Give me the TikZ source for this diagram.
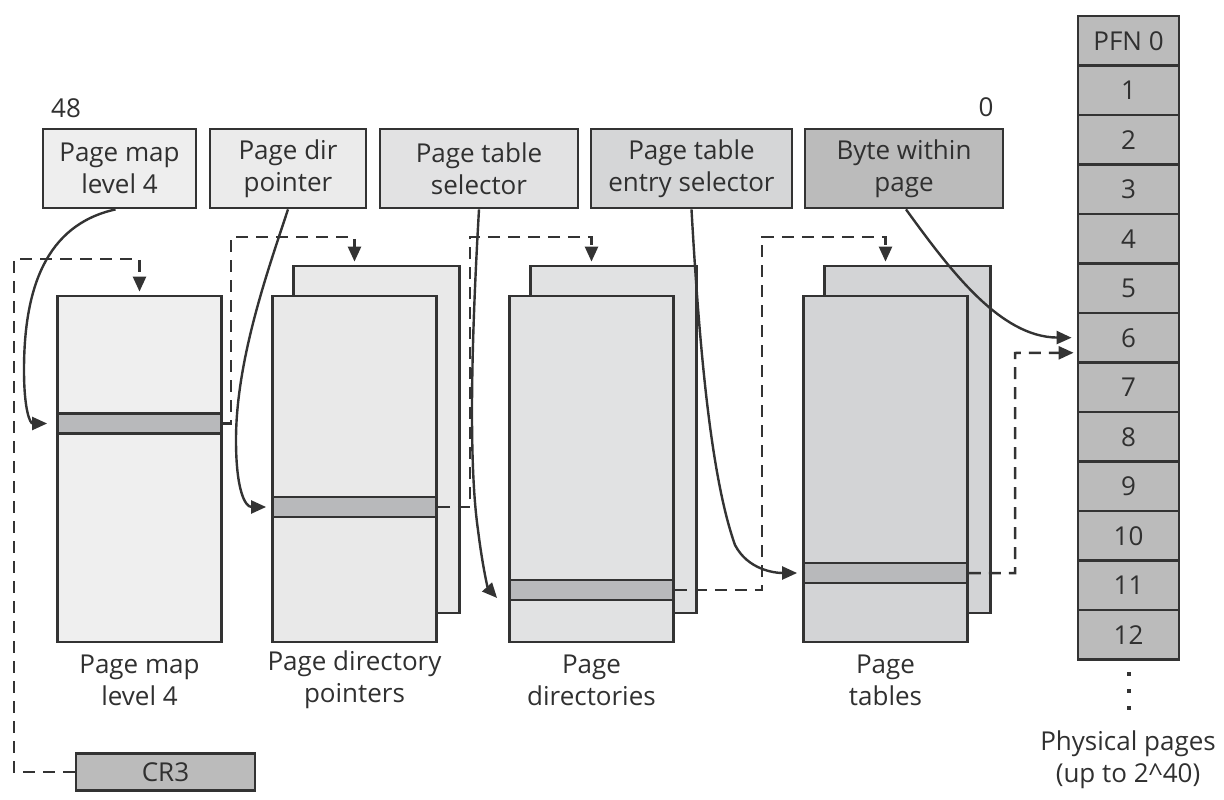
\documentclass[tikz,border=0pt]{standalone}
\usepackage{fontspec}
\setmainfont{Open Sans}
\usetikzlibrary{arrows.meta,calc}
\definecolor{ln}{HTML}{333333}
\definecolor{tx}{HTML}{303030}
\definecolor{fA}{HTML}{EEEEEE}
\definecolor{fB}{HTML}{EBEBEB}
\definecolor{fC}{HTML}{E2E2E3}
\definecolor{fD}{HTML}{D5D6D7}
\definecolor{fE}{HTML}{BBBBBB}
\definecolor{tA}{HTML}{EFEFEF}
\definecolor{tB}{HTML}{E9E9E9}
\definecolor{tC}{HTML}{E1E2E3}
\definecolor{tD}{HTML}{D3D4D6}
\definecolor{bandc}{HTML}{B8B9BB}
\begin{document}
\begin{tikzpicture}[x=1pt,y=-1pt,
  txt/.style={text=tx,font=\fontsize{26}{32}\selectfont,align=center,inner sep=0pt},
  fld/.style={txt,draw=ln,line width=2.8pt,minimum height=79pt},
  tblf/.style={draw=ln,line width=2.8pt,inner sep=0pt,minimum width=164pt,minimum height=346pt},
  tblb/.style={draw=ln,line width=2.8pt,inner sep=0pt,minimum width=166pt,minimum height=347pt},
  band/.style={draw=ln,line width=2.8pt,fill=bandc,inner sep=0pt,minimum width=164pt,minimum height=20pt},
  cell/.style={txt,draw=ln,line width=2.8pt,fill=fE,minimum width=101pt,minimum height=49.5pt},
  dsh/.style={draw=ln,line width=2.5pt,dash pattern=on 12pt off 8pt,-{Triangle[length=15pt,width=13pt]},shorten >=3pt},
  crv/.style={draw=ln,line width=2.4pt,-{Triangle[length=15pt,width=13pt]}}
]
\useasboundingbox (0,0) rectangle (1224,800);

% bit labels
\node[txt] (n48) at (66,108) {48};
\node[txt] (n0) at (986,107) {0};

% address fields
\node[fld,fill=fA,minimum width=153pt] (f1) at (119.5,168.5) {Page map\\level 4};
\node[fld,fill=fB,minimum width=156pt] (f2) at (288,168.5) {Page dir\\pointer};
\node[fld,fill=fC,minimum width=198pt] (f3) at (479,168.5) {Page table\\selector};
\node[fld,fill=fD,minimum width=201pt] (f4) at (691.5,168.5) {Page table\\entry selector};
\node[fld,fill=fE,minimum width=198pt] (f5) at (904,168.5) {Byte within\\page};

% tables
\node[tblf,fill=tA] (t1) at (139.5,469) {};
\node[band] (e1) at (139.5,423.5) {};

\node[tblb,fill=tB] (t2b) at (376.5,439.5) {};
\node[tblf,fill=tB] (t2f) at (354.5,469) {};
\node[band] (e2) at (354.5,507) {};

\node[tblb,fill=tC] (t3b) at (613.5,439.5) {};
\node[tblf,fill=tC] (t3f) at (591.5,469) {};
\node[band] (e3) at (591.5,590) {};

\node[tblb,fill=tD] (t4b) at (907.5,439.5) {};
\node[tblf,fill=tD] (t4f) at (885.5,469) {};
\node[band] (e4) at (885.5,573) {};

% table labels
\node[txt] (l1) at (139.5,680) {Page map\\level 4};
\node[txt] (l2) at (354.5,680) {Page directory\\pointers};
\node[txt] (l3) at (591.5,680) {Page\\directories};
\node[txt] (l4) at (885.5,680) {Page\\tables};

% CR3
\node[fld,fill=fE,minimum width=179pt,minimum height=37pt] (cr3) at (165.5,772) {CR3};

% physical pages
\foreach \i in {0,...,12}{
  \pgfmathsetmacro{\yy}{40.75+49.5*\i}
  \ifnum\i=0
    \node[cell] (p\i) at (1128.5,\yy) {PFN 0};
  \else
    \node[cell] (p\i) at (1128.5,\yy) {\i};
  \fi
}
\foreach \yy in {674,691,708}{
  \fill[ln] (1126.5,\yy-2) rectangle (1130.5,\yy+2);
}
\node[txt] (phys) at (1128,760) {Physical pages\\(up to 2\textasciicircum 40)};

% dashed pointers
\draw[dsh] (cr3.west) -| (14,259) -| (t1.north);
\draw[dsh] (e1.east) -| (231,237) -| (t2f.north |- t2b.north);
\draw[dsh] (e2.east) -| (470,237) -| (t3f.north |- t3b.north);
\draw[dsh] (e3.east) -| (762,237) -| (t4f.north |- t4b.north);
\draw[dsh] (e4.east) -| (1015,353) -- ($(p6.west)+(0,15)$);

% index curves
\draw[crv,shorten >=9pt] ([xshift=-4pt]f1.south) .. controls (45,225) and (24,290) .. (24,370) .. controls (24,410) and (30,423.5) .. (e1.west);
\draw[crv,shorten >=5pt] (f2.south) .. controls (268,270) and (236,360) .. (236,440) .. controls (236,490) and (245,507) .. (e2.west);
\draw[crv] (f3.south) .. controls (472,330) and (468,460) .. (478,530) .. controls (483,570) and (488,588) .. ($(e3.west)+(-11,8)$);
\draw[crv,shorten >=5pt] (f4.south) .. controls (700,360) and (712,480) .. (735,545) .. controls (748,570) and (775,573) .. (e4.west);
\draw[crv,shorten >=5pt] ([xshift=2pt]f5.south) .. controls (950,270) and (1000,337) .. (p6.west);
\end{tikzpicture}
\end{document}
